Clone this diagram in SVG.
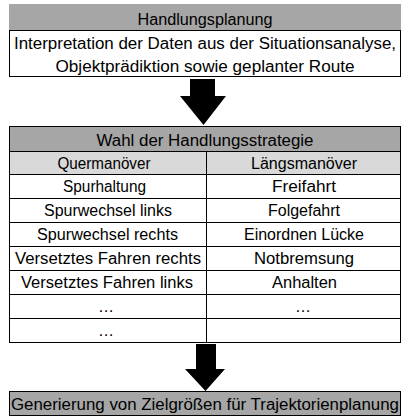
<svg xmlns="http://www.w3.org/2000/svg" width="408" height="417" viewBox="0 0 408 417">
  <defs>
    <style>
      .t { font-family: "Liberation Sans", Arial, sans-serif; font-size: 16px; fill: #000; text-anchor: middle; }
      .hdr { fill: #a6a6a6; }
      .sub { fill: #d9d9d9; }
      .ln { stroke: #000; stroke-width: 1; fill: none; }
      .arrow { fill: #000; }
    </style>
  </defs>
  <rect width="408" height="417" fill="#fff"/>

  <!-- Handlungsplanung block -->
  <g id="handlungsplanung">
    <rect class="hdr" x="9" y="4" width="392" height="26"/>
    <rect class="ln" x="9.5" y="30.5" width="391" height="46"/>
    <text class="t" x="205" y="25" textLength="135" lengthAdjust="spacingAndGlyphs">Handlungsplanung</text>
    <text class="t" x="205" y="49" textLength="382" lengthAdjust="spacingAndGlyphs">Interpretation der Daten aus der Situationsanalyse,</text>
    <text class="t" x="205" y="72" textLength="299" lengthAdjust="spacingAndGlyphs">Objektprädiktion sowie geplanter Route</text>
  </g>

  <!-- Strategy table -->
  <g id="handlungsstrategie">
    <rect class="hdr" x="9" y="126" width="392" height="25"/>
    <rect class="sub" x="9" y="151" width="392" height="23"/>
    <rect class="ln" x="9.5" y="126.5" width="391" height="216"/>
    <path class="ln" d="M9 151.5H401M9 174.5H401M9 198.5H401M9 222.5H401M9 246.5H401M9 270.5H401M9 294.5H401M9 318.5H401M206.5 151V342"/>
    <text class="t" x="205" y="146" textLength="217" lengthAdjust="spacingAndGlyphs">Wahl der Handlungsstrategie</text>
    <text class="t" x="104" y="169" textLength="93" lengthAdjust="spacingAndGlyphs">Quermanöver</text>
    <text class="t" x="304" y="169" textLength="106" lengthAdjust="spacingAndGlyphs">Längsmanöver</text>
    <text class="t" x="104.5" y="192" textLength="83" lengthAdjust="spacingAndGlyphs">Spurhaltung</text>
    <text class="t" x="304" y="192" textLength="64" lengthAdjust="spacingAndGlyphs">Freifahrt</text>
    <text class="t" x="108" y="216" textLength="128" lengthAdjust="spacingAndGlyphs">Spurwechsel links</text>
    <text class="t" x="304" y="216" textLength="72" lengthAdjust="spacingAndGlyphs">Folgefahrt</text>
    <text class="t" x="107.5" y="240" textLength="141" lengthAdjust="spacingAndGlyphs">Spurwechsel rechts</text>
    <text class="t" x="304" y="240" textLength="120" lengthAdjust="spacingAndGlyphs">Einordnen Lücke</text>
    <text class="t" x="108" y="264" textLength="186" lengthAdjust="spacingAndGlyphs">Versetztes Fahren rechts</text>
    <text class="t" x="304" y="264" textLength="100" lengthAdjust="spacingAndGlyphs">Notbremsung</text>
    <text class="t" x="107" y="288" textLength="172" lengthAdjust="spacingAndGlyphs">Versetztes Fahren links</text>
    <text class="t" x="304.5" y="288" textLength="65" lengthAdjust="spacingAndGlyphs">Anhalten</text>
    <text class="t" x="106" y="312">…</text>
    <text class="t" x="303" y="312">…</text>
    <text class="t" x="106" y="336">…</text>
  </g>

  <!-- Target quantities block -->
  <g id="zielgroessen">
    <rect class="hdr" x="9.5" y="391.5" width="391" height="24" stroke="#000" stroke-width="1"/>
    <text class="t" x="205" y="410" textLength="388" lengthAdjust="spacingAndGlyphs">Generierung von Zielgrößen für Trajektorienplanung</text>
  </g>

  <!-- Block arrows between stages -->
  <g id="connectors">
    <polygon class="arrow" points="190,79 215,79 215,96 226,96 203.5,125 180,96 190,96"/>
    <polygon class="arrow" points="196,344 216,344 216,369 225,369 205.5,391 185,369 196,369"/>
  </g>
</svg>
